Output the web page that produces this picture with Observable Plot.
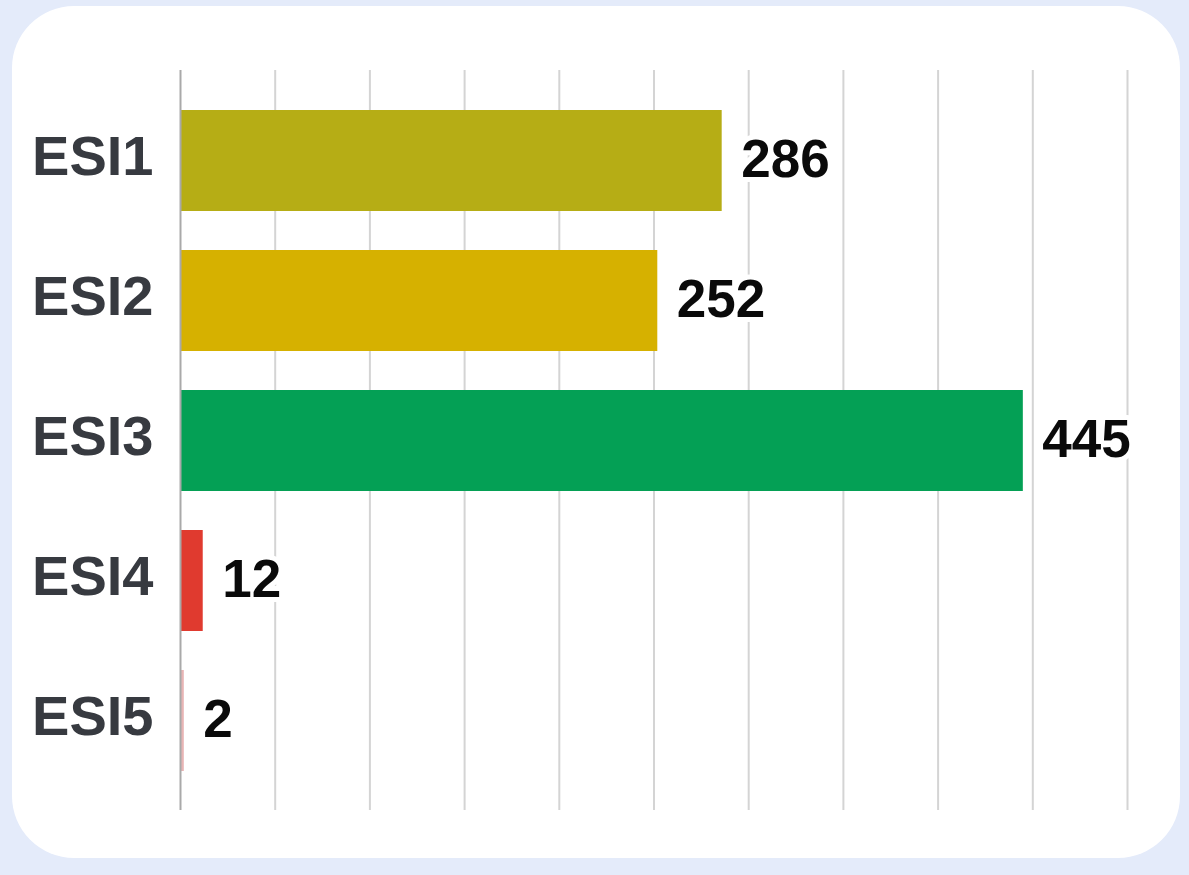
<!DOCTYPE html>
<html>
<head>
<meta charset="utf-8">
<script src="https://cdn.jsdelivr.net/npm/d3@7"></script>
<script src="https://cdn.jsdelivr.net/npm/@observablehq/plot@0.6"></script>
<style>
  html, body { margin: 0; padding: 0; background: #e4ebfa; }
  #wrap { position: relative; width: 1189px; height: 875px; overflow: hidden; }
  #card { position: absolute; left: 12px; top: 6px; width: 1168px; height: 852px; background: #ffffff; border-radius: 62px; }
  #chart { position: absolute; left: 0; top: 0; }
  #chart svg { background: transparent; }
</style>
</head>
<body>
<div id="wrap">
  <div id="card"></div>
  <div id="chart"></div>
</div>
<script>
const categories = ["ESI1", "ESI2", "ESI3", "ESI4", "ESI5"];
const counts = [286, 252, 445, 12, 2];
const barColors = ["#b6ad15", "#d6b100", "#04a055", "#e03a2f", "#e8b4b4"];
const xTicks = [50, 100, 150, 200, 250, 300, 350, 400, 450, 500];

const data = categories.map((c, i) => ({ cat: c, value: counts[i], color: barColors[i] }));

const chart = Plot.plot({
  width: 1189,
  height: 875,
  marginLeft: 180,
  marginRight: 62,
  marginTop: 70,
  marginBottom: 65,
  style: { background: "transparent", fontFamily: "'Liberation Sans', Arial, sans-serif" },
  x: { domain: [0, 500], axis: null },
  y: { domain: categories, padding: 0.28, label: null },
  marks: [
    Plot.ruleX(xTicks, { stroke: "#d4d4d4", strokeWidth: 2 }),
    Plot.barX(data, { x: "value", y: "cat", fill: "color" }),
    Plot.ruleX([0], { stroke: "#a9a9a9", strokeWidth: 2 }),
    Plot.text(data, {
      x: "value", y: "cat", text: d => String(d.value),
      dx: 19, dy: -1, textAnchor: "start", fontSize: 53, fontWeight: "bold",
      fill: "#0a0a0a", stroke: "white", strokeWidth: 10, paintOrder: "stroke"
    }),
    Plot.axisY({
      tickSize: 0, tickPadding: 27, fontSize: 56, fontWeight: "bold", dy: -4,
      fill: "#373a40", label: null
    })
  ]
});
document.getElementById("chart").appendChild(chart);
</script>
</body>
</html>
